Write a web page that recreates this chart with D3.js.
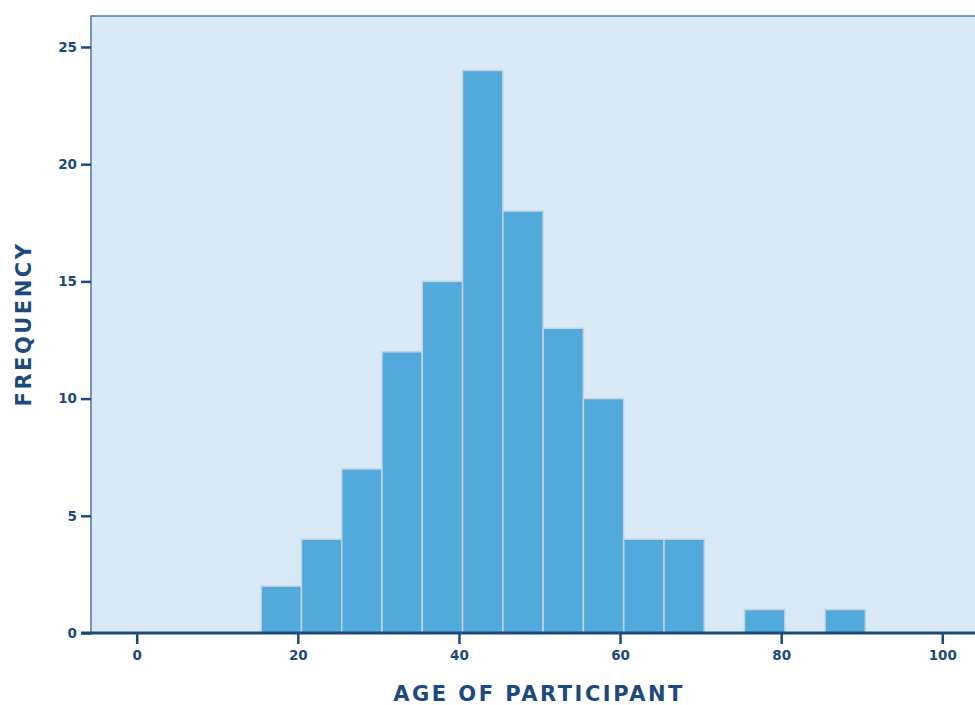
<!DOCTYPE html>
<html>
<head>
<meta charset="utf-8">
<script src="https://cdn.jsdelivr.net/npm/d3@7"></script>
<style>
  body { margin: 0; background: #fff; }
  text { font-family: "DejaVu Sans", sans-serif; font-weight: bold; fill: #1c4a7c; }
</style>
</head>
<body>
<div id="chart"></div>
<script>
// bin starts (age, 5-year bins) and counts per bin
const binStarts = [15.45, 20.45, 25.45, 30.45, 35.45, 40.45, 45.45, 50.45, 55.45, 60.45, 65.45, 70.45, 75.45, 80.45, 85.45];
const counts = [2, 4, 7, 12, 15, 24, 18, 13, 10, 4, 4, 0, 1, 0, 1];
const binWidth = 5;
const xTicks = [0, 20, 40, 60, 80, 100];
const yTicks = [0, 5, 10, 15, 20, 25];

const width = 975, height = 705;
const navy = "#1c4a7c";

const svg = d3.select("#chart").append("svg")
  .attr("width", width)
  .attr("height", height);

const x = d3.scaleLinear().domain([0, 100]).range([136.7, 942.3]);
const y = d3.scaleLinear().domain([0, 25]).range([633, 47]);

// plot background
const plotLeft = 91, plotTop = 16;
svg.append("rect")
  .attr("x", plotLeft)
  .attr("y", plotTop)
  .attr("width", width + 20 - plotLeft)
  .attr("height", y(0) - plotTop)
  .attr("fill", "#d9e9f5")
  .attr("stroke", "#4c79aa")
  .attr("stroke-width", 1.5);

// bars
svg.append("g")
  .selectAll("rect")
  .data(binStarts.map((s, i) => ({ start: s, count: counts[i] })).filter(d => d.count > 0))
  .join("rect")
  .attr("x", d => x(d.start))
  .attr("y", d => y(d.count))
  .attr("width", d => x(d.start + binWidth) - x(d.start))
  .attr("height", d => y(0) - y(d.count))
  .attr("fill", "#52aadc")
  .attr("stroke", "#c3d3df")
  .attr("stroke-width", 1.5);

// x axis
const xAxis = svg.append("g")
  .attr("transform", `translate(0,${y(0)})`)
  .call(d3.axisBottom(x).tickValues(xTicks).tickSize(11).tickPadding(6).tickFormat(d3.format("d")));
xAxis.select(".domain").remove();
xAxis.selectAll(".tick line").attr("stroke", navy).attr("stroke-width", 2.5);
xAxis.selectAll("text").attr("font-size", 13.5).attr("fill", navy).style("font-family", null);

// axis baseline
svg.append("line")
  .attr("x1", 81).attr("x2", width)
  .attr("y1", y(0)).attr("y2", y(0))
  .attr("stroke", navy).attr("stroke-width", 3);

// y axis
const yAxis = svg.append("g")
  .attr("transform", `translate(${plotLeft},0)`)
  .call(d3.axisLeft(y).tickValues(yTicks).tickSize(10).tickPadding(4));
yAxis.select(".domain").remove();
yAxis.selectAll(".tick line").attr("stroke", navy).attr("stroke-width", 2.5);
yAxis.selectAll("text").attr("font-size", 13.5).attr("fill", navy).style("font-family", null);

// axis titles
svg.append("text")
  .attr("x", 539)
  .attr("y", 701)
  .attr("text-anchor", "middle")
  .attr("font-size", 21)
  .attr("letter-spacing", 2.5)
  .text("AGE OF PARTICIPANT");

svg.append("text")
  .attr("transform", `translate(31,324) rotate(-90)`)
  .attr("text-anchor", "middle")
  .attr("font-size", 21)
  .attr("letter-spacing", 2.5)
  .text("FREQUENCY");
</script>
</body>
</html>
